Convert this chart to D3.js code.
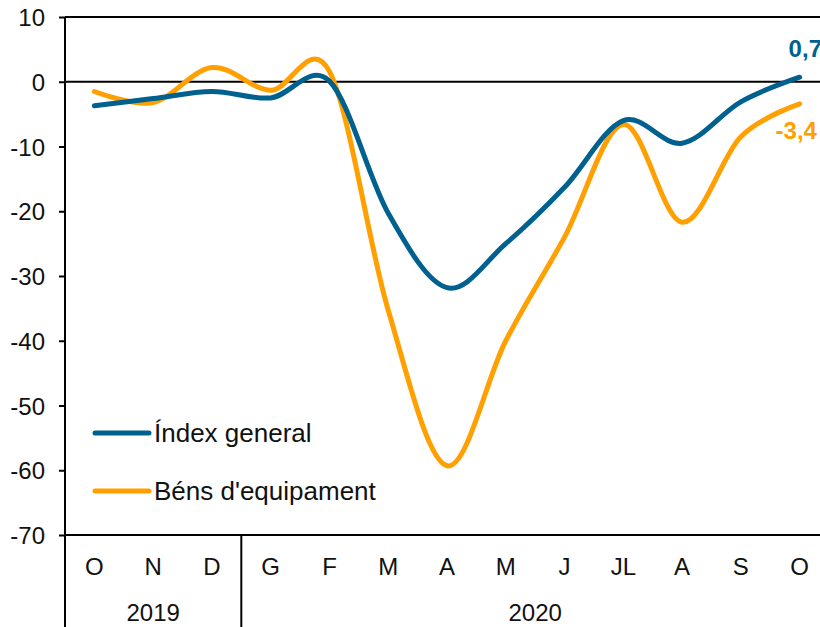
<!DOCTYPE html>
<html>
<head>
<meta charset="utf-8">
<script src="https://cdn.jsdelivr.net/npm/d3@7"></script>
<style>
  html, body { margin: 0; padding: 0; background: #fff; }
  svg { display: block; }
  text { font-family: "Liberation Sans", Arial, sans-serif; }
</style>
</head>
<body>
<svg id="chart" width="820" height="627"></svg>
<script>
const categories = ["O","N","D","G","F","M","A","M","J","JL","A","S","O"];
const years = [{label:"2019", from:0, to:2}, {label:"2020", from:3, to:12}];
const indexGeneral = [-3.7, -2.6, -1.5, -2.5, 0.1, -20.3, -31.8, -25.0, -16.3, -6.0, -9.5, -3.1, 0.7];
const bensEquipament = [-1.5, -3.2, 2.2, -1.3, 1.6, -35.3, -59.3, -40.0, -24.0, -6.6, -21.7, -8.5, -3.4];
const yTicks = [10, 0, -10, -20, -30, -40, -50, -60, -70];
const seriesNames = ["Índex general", "Béns d'equipament"];
const colors = ["#00618f", "#ffa000"];
const endLabels = ["0,7", "-3,4"];

const svg = d3.select("#chart");
const mLeft = 65, mRight = 829, mTop = 17, mBottom = 535;
const fs = 24;

const x = d3.scaleBand().domain(d3.range(categories.length)).range([mLeft, mRight]).paddingInner(0).paddingOuter(0);
const y = d3.scaleLinear().domain([10, -70]).range([mTop, mBottom]);
const cx = i => x(i) + x.bandwidth() / 2;

// y axis
const yAxis = d3.axisLeft(y).tickValues(yTicks).tickSize(6).tickFormat(d => String(d));
const gy = svg.append("g").attr("transform", `translate(${mLeft},0)`).call(yAxis);
gy.select(".domain").remove();
gy.selectAll(".tick line").attr("stroke", "#000").attr("stroke-width", 2);
gy.selectAll(".tick text").attr("x", -20).attr("dy", "0.36em").attr("font-size", fs).attr("fill", "#111")
  .attr("font-family", "Liberation Sans, Arial, sans-serif");

// frame lines
svg.append("line").attr("x1", mLeft).attr("x2", 820).attr("y1", y(10)).attr("y2", y(10)).attr("stroke", "#000").attr("stroke-width", 2);
svg.append("line").attr("x1", mLeft).attr("x2", 820).attr("y1", y(0)).attr("y2", y(0)).attr("stroke", "#000").attr("stroke-width", 2);
svg.append("line").attr("x1", mLeft).attr("x2", 820).attr("y1", y(-70)).attr("y2", y(-70)).attr("stroke", "#000").attr("stroke-width", 2);
svg.append("line").attr("x1", mLeft).attr("x2", mLeft).attr("y1", y(10)).attr("y2", 627).attr("stroke", "#000").attr("stroke-width", 2);

// year separators
years.slice(1).forEach(yr => {
  const xs = x(yr.from);
  svg.append("line").attr("x1", xs).attr("x2", xs).attr("y1", y(-70)).attr("y2", 627).attr("stroke", "#000").attr("stroke-width", 2);
});

// category labels
svg.append("g").selectAll("text").data(categories).join("text")
  .attr("x", (d, i) => cx(i)).attr("y", 575).attr("text-anchor", "middle")
  .attr("font-size", fs).attr("fill", "#111").text(d => d);

// year labels
svg.append("g").selectAll("text").data(years).join("text")
  .attr("x", d => (x(d.from) + x(d.to) + x.bandwidth()) / 2).attr("y", 621).attr("text-anchor", "middle")
  .attr("font-size", fs).attr("fill", "#111").text(d => d.label);

// lines
const line = d3.line().x((d, i) => cx(i)).y(d => y(d)).curve(d3.curveCardinal.tension(0));
[[bensEquipament, 1], [indexGeneral, 0]].forEach(([s, idx]) => {
  svg.append("path").datum(s).attr("d", line).attr("fill", "none")
    .attr("stroke", colors[idx]).attr("stroke-width", 5)
    .attr("stroke-linecap", "round").attr("stroke-linejoin", "round");
});

// end labels
const last = categories.length - 1;
svg.append("text").attr("x", cx(last) - 11).attr("y", 57).attr("font-size", fs).attr("font-weight", "bold")
  .attr("fill", colors[0]).text(endLabels[0]);
svg.append("text").attr("x", cx(last) - 24).attr("y", 139).attr("font-size", fs).attr("font-weight", "bold")
  .attr("fill", colors[1]).text(endLabels[1]);

// legend
const legendY = [433, 491];
seriesNames.forEach((n, k) => {
  svg.append("line").attr("x1", 95).attr("x2", 149).attr("y1", legendY[k]).attr("y2", legendY[k])
    .attr("stroke", colors[k]).attr("stroke-width", 5).attr("stroke-linecap", "round");
  svg.append("text").attr("x", 154).attr("y", legendY[k] + 9).attr("font-size", 26).attr("fill", "#111").text(n);
});
</script>
</body>
</html>
